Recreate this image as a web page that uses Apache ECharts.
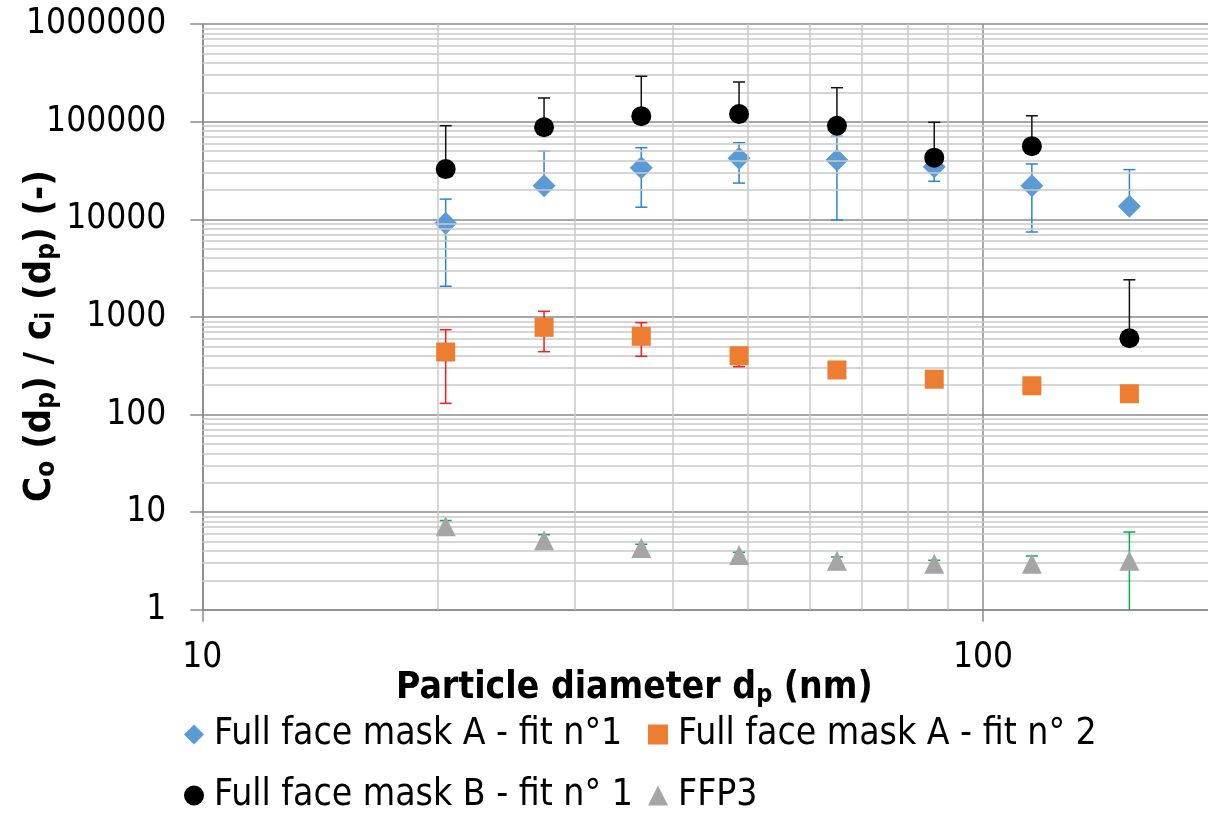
<!DOCTYPE html>
<html><head><meta charset="utf-8">
<script src="https://cdn.jsdelivr.net/npm/echarts@6/dist/echarts.min.js"></script>
<style>html,body{margin:0;padding:0;background:#fff}#c{width:1208px;height:813px}</style>
</head><body><div id="c"></div>
<script>
// ---- data ----
const diameters = [20.5, 27.4, 36.5, 48.7, 65.0, 86.6, 115.5, 154.0];

const maskA1     = [9100, 22100, 33800, 42200, 40500, 34600, 22100, 13600];
const maskA1High = [16100, 50000, 54200, 60900, 70800, 48000, 36900, 32300];
const maskA1Low  = [2060, 22100, 13300, 23500, 9840, 24500, 7410, 13600];

const maskA2     = [437, 782, 633, 400, 286, 230, 197, 163];
const maskA2High = [739, 1141, 873, 460, 286, 230, 197, 163];
const maskA2Low  = [130, 440, 395, 309, 286, 230, 197, 163];

const maskB1     = [32700, 87700, 114000, 120000, 91000, 42800, 56200, 604];
const maskB1High = [91000, 175000, 292000, 255000, 223000, 98600, 115000, 2400];
const maskB1Low  = [32700, 87700, 114000, 120000, 91000, 42800, 56200, 604];

const ffp3     = [7.15, 5.14, 4.29, 3.63, 3.18, 2.96, 2.96, 3.18];
const ffp3High = [8.2, 5.87, 4.68, 3.87, 3.47, 3.21, 3.55, 6.25];
const ffp3Low  = [7.15, 5.14, 4.29, 3.63, 3.18, 2.96, 2.96, 0.5];

const seriesNames = ['Full face mask A - fit n°1', 'Full face mask A - fit n° 2',
                     'Full face mask B - fit n° 1', 'FFP3'];
const xTickLabels = ['10', '100', '1000'];
const yTickLabels = ['1', '10', '100', '1000', '10000', '100000', '1000000'];

// ---- styling ----
const FONT = "'DejaVu Sans Condensed', 'DejaVu Sans', sans-serif";
const MAJOR = '#8A8A8A';
const MINOR = '#C8C8C8';

function pts(vals) { return diameters.map((d, i) => [d, vals[i]]); }
function errPts(vals, lo, hi) { return diameters.map((d, i) => [d, vals[i], lo[i], hi[i]]); }

function errRender(color) {
  return function (params, api) {
    const x = api.value(0), v = api.value(1), lo = api.value(2), hi = api.value(3);
    const cs = params.coordSys;
    const top = cs.y, bottom = cs.y + cs.height;
    const pV = api.coord([x, v]);
    const pH = api.coord([x, hi]);
    const pL = api.coord([x, lo]);
    const cx = pV[0];
    const yH = Math.max(pH[1], top), yL = Math.min(pL[1], bottom);
    const style = { stroke: color, lineWidth: 1.5, fill: null };
    const half = 6;
    const children = [];
    if (yL - yH > 0.5) children.push({ type: 'line', shape: { x1: cx, y1: yH, x2: cx, y2: yL }, style });
    if (hi > v && pH[1] >= top) children.push({ type: 'line', shape: { x1: cx - half, y1: pH[1], x2: cx + half, y2: pH[1] }, style });
    if (lo < v && pL[1] <= bottom) children.push({ type: 'line', shape: { x1: cx - half, y1: pL[1], x2: cx + half, y2: pL[1] }, style });
    return { type: 'group', children };
  };
}

const minorX = [];
for (let d = 10; d < 1000; d *= 10) for (let m = 2; m <= 9; m++) minorX.push(m * d);
const minorY = [];
for (let d = 1; d < 1000000; d *= 10) for (let m = 2; m <= 9; m++) minorY.push(m * d);

function legendAt(name, icon, left, top) {
  return {
    show: true, left, top, padding: 0, orient: 'horizontal', selectedMode: false,
    itemWidth: 20, itemHeight: 20, icon,
    data: [{ name, icon }],
    textStyle: { fontFamily: FONT, fontSize: 37, color: '#000', padding: [0, 0, 0, 5] }
  };
}

const chart = echarts.init(document.getElementById('c'), null, { renderer: 'canvas' });
chart.setOption({
  animation: false,
  backgroundColor: '#fff',
  grid: { left: 202.3, top: 24.1, bottom: 203.3, right: -555.7, outerBoundsMode: 'none', containLabel: false },
  xAxis: {
    type: 'log', logBase: 10, min: 10, max: 1000,
    axisLine: { show: true, lineStyle: { color: MAJOR, width: 1.5 } },
    axisTick: { show: true, inside: false, length: 12, lineStyle: { color: MAJOR, width: 1.5 } },
    axisLabel: {
      show: true, margin: 31, fontFamily: FONT, fontSize: 35, color: '#000',
      formatter: v => xTickLabels[Math.round(Math.log10(v)) - 1]
    },
    splitLine: { show: true, lineStyle: { color: MAJOR, width: 1.5 } },
    minorTick: { show: false }, minorSplitLine: { show: false }
  },
  yAxis: {
    type: 'log', logBase: 10, min: 1, max: 1000000,
    axisLine: { show: true, lineStyle: { color: MAJOR, width: 1.5 } },
    axisTick: { show: true, inside: false, length: 12, lineStyle: { color: MAJOR, width: 1.5 } },
    axisLabel: {
      show: true, margin: 36, fontFamily: FONT, fontSize: 35, color: '#000',
      formatter: v => yTickLabels[Math.round(Math.log10(v))]
    },
    splitLine: { show: true, lineStyle: { color: MAJOR, width: 1.5 } },
    minorTick: { show: false }, minorSplitLine: { show: false }
  },
  legend: [
    legendAt(seriesNames[0], 'diamond', 184, 716),
    legendAt(seriesNames[1], 'rect', 648, 716),
    legendAt(seriesNames[2], 'circle', 184, 777),
    legendAt(seriesNames[3], 'triangle', 648, 777)
  ],
  graphic: [
    {
      type: 'text', x: 396, y: 688, silent: true,
      style: {
        text: '{b|Particle diameter d}{s|p}{b| (nm)}',
        align: 'left', verticalAlign: 'middle',
        rich: {
          b: { fontFamily: FONT, fontSize: 37, fontWeight: 'bold', fill: '#000' },
          s: { fontFamily: FONT, fontSize: 25, fontWeight: 'bold', fill: '#000', padding: [14, 0, 0, 0] }
        }
      }
    },
    {
      type: 'text', x: 40, y: 336, rotation: Math.PI / 2, silent: true,
      style: {
        text: '{b|C}{s|o}{b| (d}{s|p}{b|) / c}{s|i}{b| (d}{s|p}{b|) (-)}',
        align: 'center', verticalAlign: 'middle',
        rich: {
          b: { fontFamily: FONT, fontSize: 38, fontWeight: 'bold', fill: '#000' },
          s: { fontFamily: FONT, fontSize: 26, fontWeight: 'bold', fill: '#000', padding: [14, 0, 0, 0] }
        }
      }
    }
  ],
  series: [
    {
      name: 'minorGrid', type: 'scatter', data: [], z: 1, silent: true,
      markLine: {
        silent: true, symbol: ['none', 'none'], label: { show: false }, animation: false,
        lineStyle: { color: MINOR, width: 1.5, type: 'solid' },
        emphasis: { disabled: true },
        data: minorX.map(v => ({ xAxis: v })).concat(minorY.map(v => ({ yAxis: v })))
      }
    },
    { name: 'errA1', type: 'custom', z: 3, silent: true, renderItem: errRender('#2983D4'),
      encode: { x: 0, y: [1, 2, 3] }, data: errPts(maskA1, maskA1Low, maskA1High) },
    { name: seriesNames[0], type: 'scatter', z: 4, symbol: 'diamond', symbolSize: 23,
      itemStyle: { color: '#5B9BD5', opacity: 1 }, data: pts(maskA1) },
    { name: 'errA2', type: 'custom', z: 5, silent: true, renderItem: errRender('#FF1A1A'),
      encode: { x: 0, y: [1, 2, 3] }, data: errPts(maskA2, maskA2Low, maskA2High) },
    { name: seriesNames[1], type: 'scatter', z: 6, symbol: 'rect', symbolSize: 19,
      itemStyle: { color: '#ED7D31', opacity: 1 }, data: pts(maskA2) },
    { name: 'errB1', type: 'custom', z: 7, silent: true, renderItem: errRender('#111111'),
      encode: { x: 0, y: [1, 2, 3] }, data: errPts(maskB1, maskB1Low, maskB1High) },
    { name: seriesNames[2], type: 'scatter', z: 8, symbol: 'circle', symbolSize: 20,
      itemStyle: { color: '#000000', opacity: 1 }, data: pts(maskB1) },
    { name: 'errF', type: 'custom', z: 9, silent: true, renderItem: errRender('#00B050'),
      encode: { x: 0, y: [1, 2, 3] }, data: errPts(ffp3, ffp3Low, ffp3High) },
    { name: seriesNames[3], type: 'scatter', z: 10, symbol: 'triangle', symbolSize: 20,
      itemStyle: { color: '#A5A5A5', opacity: 1 }, data: pts(ffp3) }
  ]
});
</script>
</body></html>
